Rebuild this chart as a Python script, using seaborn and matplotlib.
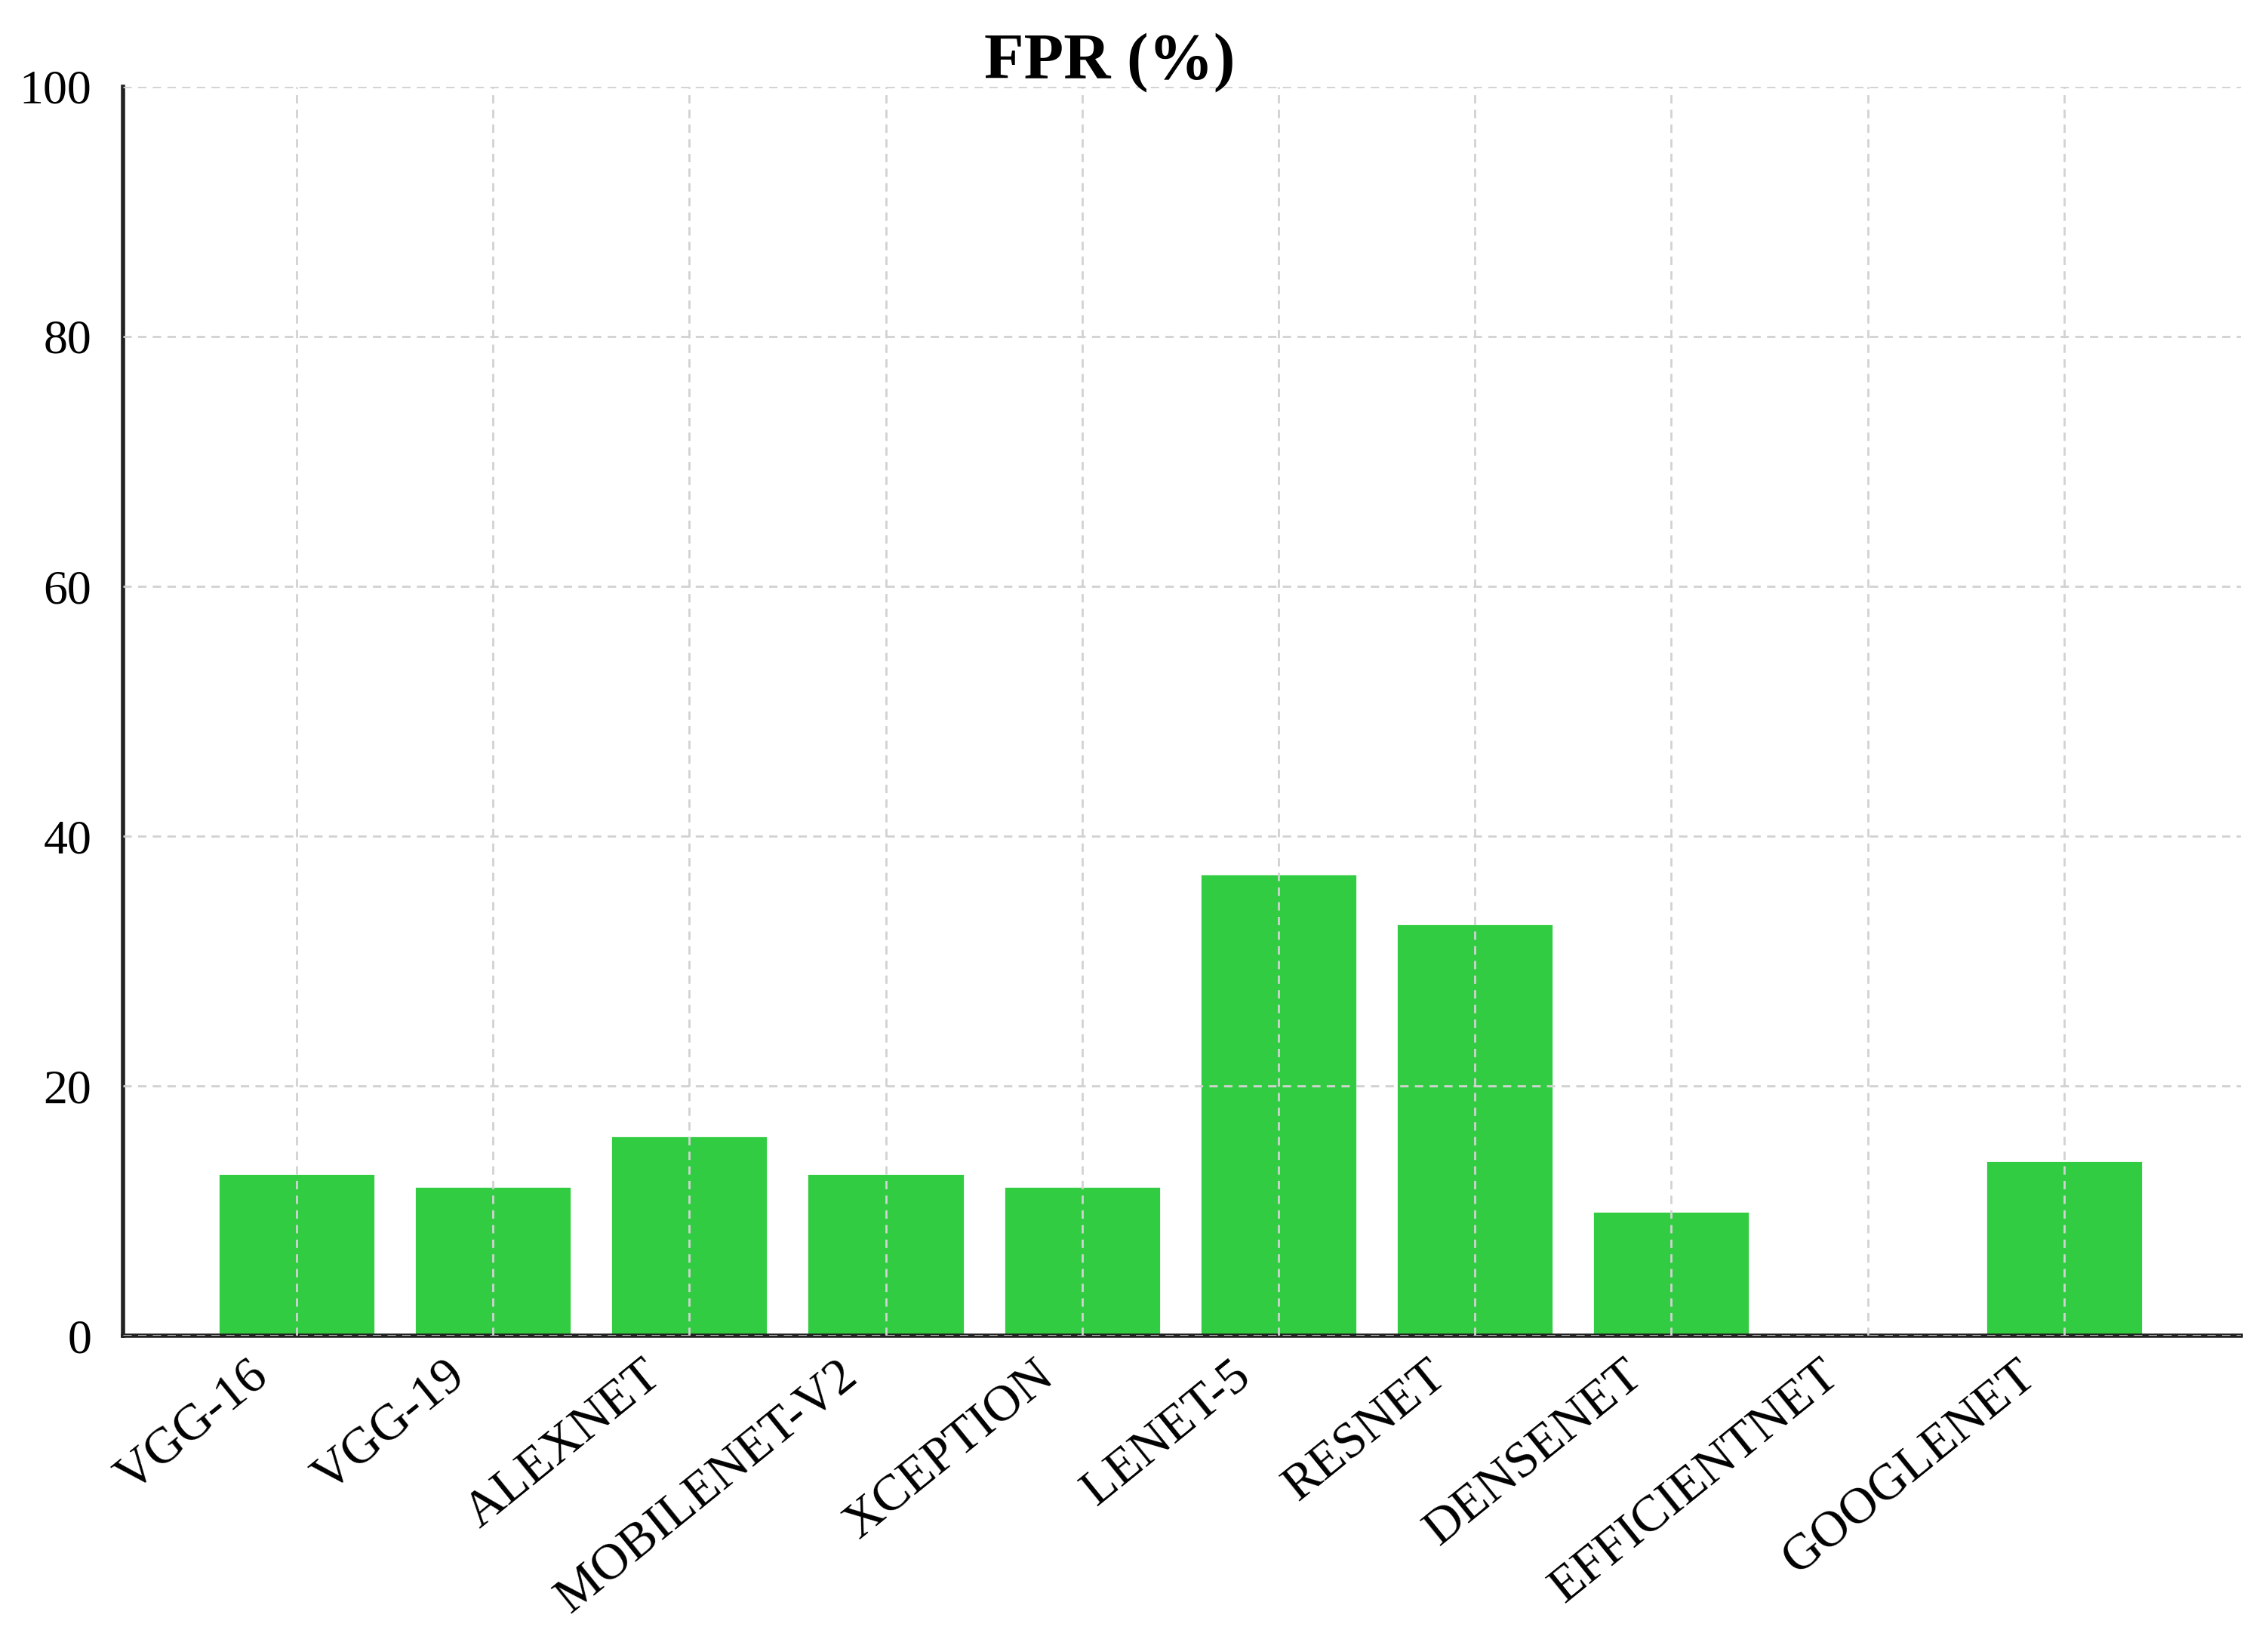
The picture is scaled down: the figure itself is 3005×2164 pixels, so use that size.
import matplotlib
matplotlib.use('Agg')
import matplotlib.pyplot as plt
import matplotlib.transforms as mtransforms
import seaborn as sns
import pandas as pd

# Данные графика
models = ['VGG-16', 'VGG-19', 'ALEXNET', 'MOBILENET-V2', 'XCEPTION',
          'LENET-5', 'RESNET', 'DENSENET', 'EFFICIENTNET', 'GOOGLENET']
fpr = [13, 12, 16, 13, 12, 37, 33, 10, 0, 14]
y_ticks = [0, 20, 40, 60, 80, 100]

df = pd.DataFrame({'model': models, 'fpr': fpr})

sns.set_style('white')
plt.rcParams['font.family'] = ['Liberation Serif', 'DejaVu Serif']
plt.rcParams['text.color'] = 'black'
plt.rcParams['xtick.color'] = 'black'
plt.rcParams['ytick.color'] = 'black'

fig = plt.figure(figsize=(15.025, 10.82), dpi=200)
ax = fig.add_axes([0.0542, 0.182, 0.9338, 0.7649])

sns.barplot(data=df, x='model', y='fpr', color='#31cc42', width=0.8,
            saturation=1, ax=ax)

ax.set_xlim(-0.884, 9.90)
ax.set_ylim(0, 100)
ax.set_yticks(y_ticks)
ax.set_xlabel('')
ax.set_ylabel('')

# сетка поверх столбцов
ax.set_axisbelow(False)
ax.grid(True, color='#d2d2d2', linewidth=1.0, linestyle=(0, (4, 3)))

for side in ['top', 'right']:
    ax.spines[side].set_visible(False)
for side in ['left', 'bottom']:
    ax.spines[side].set_color('#222222')
    ax.spines[side].set_linewidth(2.0)

ax.tick_params(axis='both', direction='in', length=6, width=1.2,
               color='#111111')
ax.tick_params(axis='y', pad=15, labelsize=23)
ax.tick_params(axis='x', pad=8, labelsize=24.5)

offset = mtransforms.ScaledTranslation(-0.32, 0, fig.dpi_scale_trans)
for lbl in ax.get_xticklabels():
    lbl.set_rotation(39)
    lbl.set_ha('right')
    lbl.set_va('top')
    lbl.set_rotation_mode('anchor')
    lbl.set_transform(lbl.get_transform() + offset)

ax.set_title('FPR (%)', fontsize=31, fontweight='bold', x=0.466, pad=4)

fig.savefig('out.png', dpi=200)
